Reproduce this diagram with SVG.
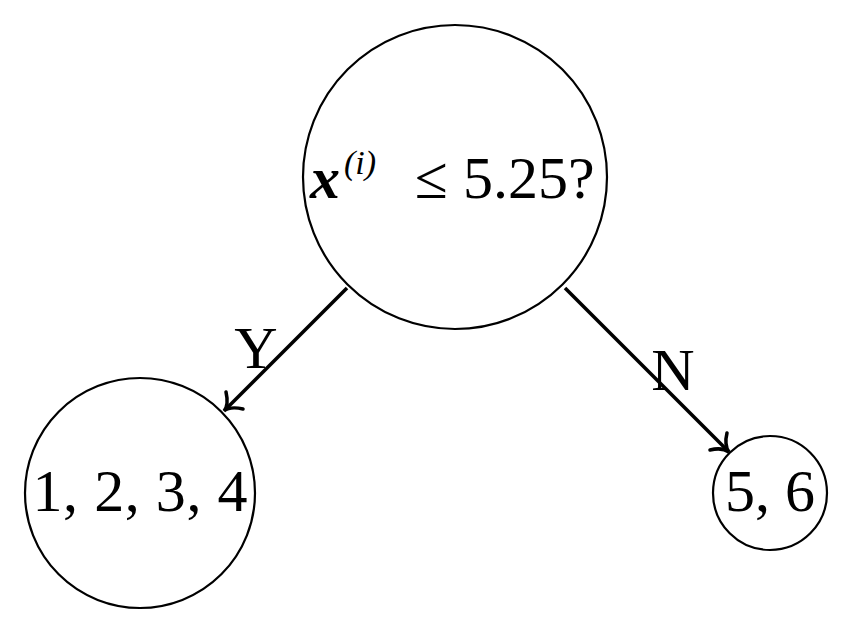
<svg xmlns="http://www.w3.org/2000/svg" width="854" height="635" viewBox="0 0 854 635">
<style>
.n{fill:none;stroke:#000;stroke-width:2.2}
.t{font-family:"Liberation Serif","DejaVu Serif",serif;font-size:60px;fill:#000}
.e{stroke:#000;stroke-width:3.5;fill:none}
.h{stroke:#000;stroke-width:3.5;fill:none;stroke-linecap:round}
</style>
<rect width="854" height="635" fill="#fff"/>
<g id="root"><circle class="n" cx="455" cy="177" r="152"/>
<text class="t" x="310" y="198"><tspan font-weight="bold" font-style="italic">x</tspan><tspan font-size="34" dy="-24" dx="4" font-style="italic">(i)</tspan><tspan dy="24" x="400"> ≤ 5.25?</tspan></text></g>
<g id="left"><circle class="n" cx="140" cy="493" r="115"/>
<text class="t" x="140" y="511" text-anchor="middle" textLength="215">1, 2, 3, 4</text></g>
<g id="right"><circle class="n" cx="770" cy="493" r="57"/>
<text class="t" x="770" y="511" text-anchor="middle" font-size="56">5, 6</text></g>
<g id="edges">
<line class="e" x1="347" y1="288" x2="226" y2="409"/>
<path class="h" d="M226 392 Q229 405 224 411 Q230 406 243 409"/>
<text class="t" x="256" y="368" text-anchor="middle" font-size="48">Y</text>
<line class="e" x1="565" y1="288" x2="727" y2="450"/>
<path class="h" d="M710 450 Q722 447 729 452 Q724 445 727 433"/>
<text class="t" x="673" y="390" text-anchor="middle" font-size="48">N</text>
</g>
</svg>
